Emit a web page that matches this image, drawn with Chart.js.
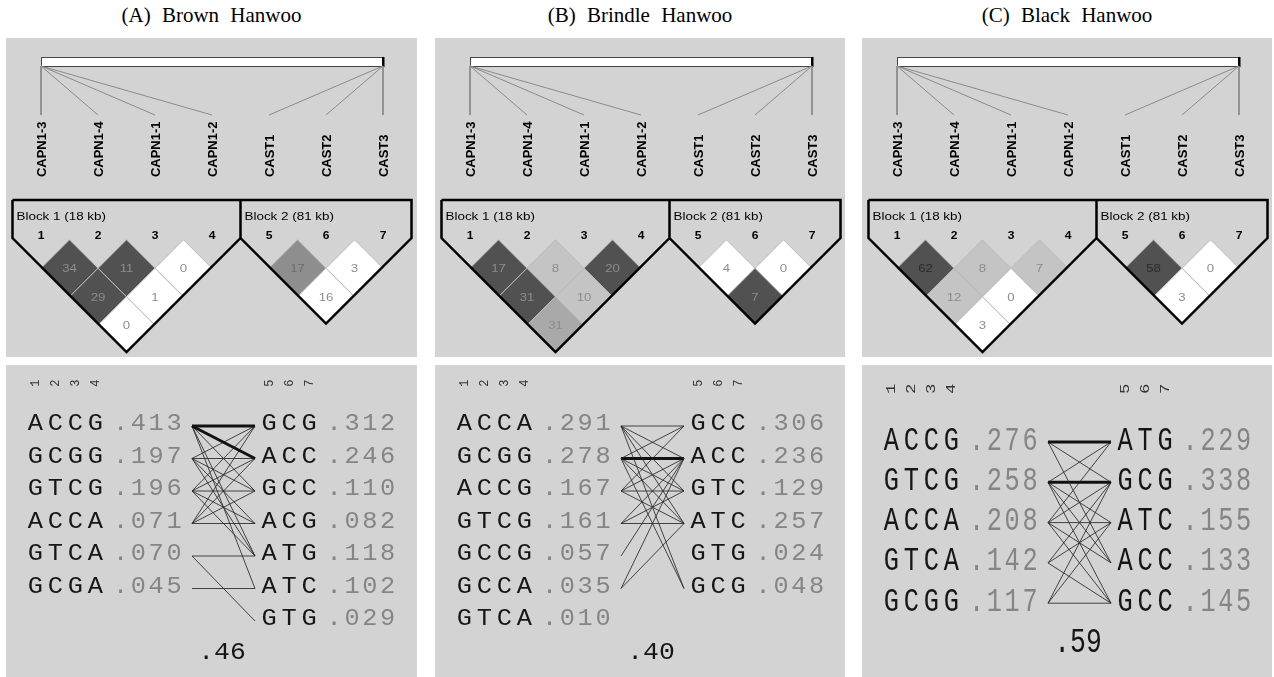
<!DOCTYPE html>
<html>
<head>
<meta charset="utf-8">
<script src="https://cdn.jsdelivr.net/npm/chart.js@4/dist/chart.umd.min.js"></script>
<style>
body { margin:0; background:#fff; width:1274px; height:677px; position:relative; overflow:hidden; }
canvas { position:absolute; background:#d3d3d3; }
.ttl { position:absolute; top:3px; font:21px "Liberation Serif"; word-spacing:6px; text-align:center; color:#000; }
</style>
</head>
<body>
<div class="ttl" style="left:6px;width:411px">(A) Brown Hanwoo</div>
<div class="ttl" style="left:435px;width:410px">(B) Brindle Hanwoo</div>
<div class="ttl" style="left:862px;width:410px">(C) Black Hanwoo</div>
<canvas id="ldA" width="411" height="319" style="left:6px;top:38px"></canvas>
<canvas id="ldB" width="410" height="319" style="left:435px;top:38px"></canvas>
<canvas id="ldC" width="410" height="319" style="left:862px;top:38px"></canvas>
<canvas id="hapA" width="411" height="312" style="left:6px;top:365px"></canvas>
<canvas id="hapB" width="410" height="312" style="left:435px;top:365px"></canvas>
<canvas id="hapC" width="410" height="312" style="left:862px;top:365px"></canvas>
<script>
// markers and blocks
const markers = ['CAPN1-3', 'CAPN1-4', 'CAPN1-1', 'CAPN1-2', 'CAST1', 'CAST2', 'CAST3'];
const mapPos = [0, 0, 0, 0, 1, 1, 1];   // place on the physical map bar (0 = left end, 1 = right end)
const blockNames = ['Block 1 (18 kb)', 'Block 2 (81 kb)'];
const blockSpans = [[1, 4], [5, 7]];

// LD cells (pairs of markers) and values
const pairs = [[1,2], [2,3], [3,4], [1,3], [2,4], [1,4], [5,6], [6,7], [5,7]];
const ldBrown   = [34, 11, 0, 29, 1, 0, 17, 3, 16];
const ldBrindle = [17, 8, 20, 31, 10, 31, 4, 0, 7];
const ldBlack   = [62, 8, 7, 12, 0, 3, 58, 0, 3];
// d = dark, m = medium, g = mid-light, l = light, w = white
const shadeBrown   = ['d', 'd', 'w', 'd', 'w', 'w', 'm', 'w', 'w'];
const shadeBrindle = ['d', 'l', 'd', 'd', 'l', 'g', 'w', 'w', 'd'];
const shadeBlack   = ['d', 'l', 'l', 'l', 'w', 'w', 'd', 'w', 'w'];
const shadeColor = { d: '#515151', m: '#8e8e8e', g: '#a9a9a9', l: '#c4c4c4', w: '#ffffff' };

// haplotypes: block 1 (markers 1-4) and block 2 (markers 5-7)
const hap1Brown = ['ACCG', 'GCGG', 'GTCG', 'ACCA', 'GTCA', 'GCGA'];
const frq1Brown = [0.413, 0.197, 0.196, 0.071, 0.070, 0.045];
const hap2Brown = ['GCG', 'ACC', 'GCC', 'ACG', 'ATG', 'ATC', 'GTG'];
const frq2Brown = [0.312, 0.246, 0.110, 0.082, 0.118, 0.102, 0.029];
const multiBrown = '.46';
// [left row, right row, weight] (weight 2 = thick line)
const linkBrown = [[1,1,2],[1,2,2],[1,3,1],[1,5,1],[1,6,1],[2,1,1],[2,2,1],[2,3,1],[2,4,1],[2,5,1],
  [3,1,1],[3,2,1],[3,3,1],[3,4,1],[3,5,1],[4,1,1],[4,2,1],[4,3,1],[4,4,1],[5,5,1],[5,7,1],[6,6,1]];

const hap1Brindle = ['ACCA', 'GCGG', 'ACCG', 'GTCG', 'GCCG', 'GCCA', 'GTCA'];
const frq1Brindle = [0.291, 0.278, 0.167, 0.161, 0.057, 0.035, 0.010];
const hap2Brindle = ['GCC', 'ACC', 'GTC', 'ATC', 'GTG', 'GCG'];
const frq2Brindle = [0.306, 0.236, 0.129, 0.257, 0.024, 0.048];
const multiBrindle = '.40';
const linkBrindle = [[1,1,1],[1,2,1],[1,3,1],[1,4,1],[1,6,1],[2,1,1],[2,2,2],[2,3,1],[2,4,1],[2,6,1],
  [3,1,1],[3,2,1],[3,3,1],[3,4,1],[4,2,1],[4,3,1],[4,4,1],[5,2,1],[6,2,1],[6,4,1]];

const hap1Black = ['ACCG', 'GTCG', 'ACCA', 'GTCA', 'GCGG'];
const frq1Black = [0.276, 0.258, 0.208, 0.142, 0.117];
const hap2Black = ['ATG', 'GCG', 'ATC', 'ACC', 'GCC'];
const frq2Black = [0.229, 0.338, 0.155, 0.133, 0.145];
const multiBlack = '.59';
const linkBlack = [[1,1,2],[1,2,1],[1,4,1],[2,1,1],[2,2,2],[2,3,1],[2,4,1],[2,5,1],[3,1,1],[3,2,1],
  [3,3,1],[3,4,1],[3,5,1],[4,2,1],[4,3,1],[4,5,1],[5,2,1],[5,3,1],[5,5,1]];

function txt(c, s, x, y, font, color, align, sx, sy, rot) {
  c.save();
  c.translate(x, y);
  c.scale(sx || 1, sy || 1);
  if (rot) c.rotate(rot);
  c.font = font;
  c.fillStyle = color;
  c.textAlign = align || 'center';
  c.textBaseline = 'alphabetic';
  c.fillText(s, 0, 0);
  c.restore();
}

var ldPlugin = {
  id: 'ldText',
  beforeDatasetsDraw(chart) {
    var c = chart.ctx, x = chart.scales.x, y = chart.scales.y;
    var x0 = x.getPixelForValue(1), x1 = x.getPixelForValue(markers.length);
    var y0 = y.getPixelForValue(0.333), y1 = y.getPixelForValue(0.491);
    c.save();
    c.fillStyle = '#fff';
    c.fillRect(x0, y0, x1 - x0, y1 - y0);
    c.strokeStyle = '#444';
    c.lineWidth = 1;
    c.strokeRect(Math.round(x0) + 0.5, Math.round(y0) + 0.5, x1 - x0, y1 - y0);
    c.fillStyle = '#000';
    c.fillRect(x1 - 1, y0, 2.5, y1 - y0 + 1);
    c.restore();
  },
  afterDatasetsDraw(chart) {
    var c = chart.ctx, x = chart.scales.x, y = chart.scales.y;
    markers.forEach(function (m, i) {
      txt(c, m, x.getPixelForValue(i + 1) + 4.6, y.getPixelForValue(2.44), 'bold 13px "Liberation Sans"', '#000', 'left', 1, 1, -Math.PI / 2);
      txt(c, String(i + 1), x.getPixelForValue(i + 1), y.getPixelForValue(3.53), 'bold 11px "Liberation Sans"', '#000', 'center', 1.1, 1);
    });
    blockSpans.forEach(function (b, i) {
      txt(c, blockNames[i], x.getPixelForValue(b[0] - 0.43), y.getPixelForValue(3.19), '11px "Liberation Sans"', '#000', 'left', 1.22, 1);
    });
    var ds = chart.data.datasets[1];
    chart.getDatasetMeta(1).data.forEach(function (pt, i) {
      var v = ds.data[i].v, sh = ds.data[i].s;
      var col = v >= 50 ? '#2a2a2a' : (sh === 'm' ? '#6c6c6c' : '#8c8c8c');
      txt(c, String(v), pt.x, pt.y + 4, '11px "Liberation Sans"', col, 'center', 1.2, 1);
    });
  }
};

function ldChart(id, vals, shades) {
  var cv = document.getElementById(id);
  var u = 57, xmin = 1 - 35 / u;
  var cells = pairs.map(function (p, i) {
    return { x: (p[0] + p[1]) / 2, y: 3.54 + (p[1] - p[0]) / 2, v: vals[i], s: shades[i] };
  });
  var sets = [];
  var outline = [];
  blockSpans.forEach(function (b) {
    var l = b[0] - 0.5, r = b[1] + 0.5;
    outline.push({ x: l, y: 2.84 }, { x: r, y: 2.84 }, { x: r, y: 3.51 },
      { x: (l + r) / 2, y: 3.51 + (r - l) / 2 }, { x: l, y: 3.51 }, { x: l, y: 2.84 }, { x: NaN, y: NaN });
  });
  sets.push({ data: outline, showLine: true, spanGaps: false, borderColor: '#000', borderWidth: 2.5, pointRadius: 0, order: 0 });
  sets.push({
    data: cells, pointStyle: 'rectRot', order: 1,
    pointRadius: function (ctx) { var s = ctx.chart.scales.x; return Math.abs(s.getPixelForValue(0.5) - s.getPixelForValue(0)); },
    pointBackgroundColor: shades.map(function (s) { return shadeColor[s]; }),
    pointBorderColor: '#bababa', pointBorderWidth: 1
  });
  markers.forEach(function (m, i) {
    sets.push({ data: [{ x: 1 + mapPos[i] * (markers.length - 1), y: 0.491 }, { x: i + 1, y: 1.351 }],
      showLine: true, borderColor: '#8a8a8a', borderWidth: 1, pointRadius: 0, order: 2 });
  });
  return new Chart(cv, {
    type: 'scatter',
    data: { datasets: sets },
    options: {
      responsive: false, animation: false, events: [], devicePixelRatio: 1,
      layout: { padding: 0 },
      plugins: { legend: { display: false }, tooltip: { enabled: false } },
      scales: {
        x: { type: 'linear', display: false, min: xmin, max: xmin + cv.width / u },
        y: { type: 'linear', display: false, reverse: true, min: 0, max: cv.height / u }
      }
    },
    plugins: [ldPlugin]
  });
}

var hapPlugin = {
  id: 'hapText',
  afterDatasetsDraw(chart) {
    var c = chart.ctx, x = chart.scales.x, y = chart.scales.y, o = chart.options.hap;
    var font = '23px "Liberation Mono"';
    function column(haps, frqs, x0) {
      haps.forEach(function (h, r) {
        var yy = y.getPixelForValue(r) + o.dy;
        for (var k = 0; k < h.length; k++) {
          txt(c, h[k], x.getPixelForValue(x0 + k), yy, font, '#161616', 'center', 1.1, o.sy);
        }
        var f = frqs[r].toFixed(3).slice(1);
        var start = x.getPixelForValue(x0 + h.length) - 2.4;
        for (var j = 0; j < f.length; j++) {
          txt(c, f[j], start + 7.6 + j * 17.8, yy, font, '#858585', 'center', 1.1, o.sy);
        }
      });
    }
    column(o.hL, o.fL, 1.47);
    column(o.hR, o.fR, 13.15);
    var yh = y.getPixelForValue(-1.32);
    var hf = '12px "Liberation Mono"';
    for (var k = 0; k < o.hL[0].length; k++) {
      txt(c, String(k + 1), x.getPixelForValue(1.47 + k) + 4, yh, hf, '#333', 'center', 1, o.sy, -Math.PI / 2);
    }
    for (var k2 = 0; k2 < o.hR[0].length; k2++) {
      txt(c, String(k2 + 1 + o.hL[0].length), x.getPixelForValue(13.15 + k2) + 4, yh, hf, '#333', 'center', 1, o.sy, -Math.PI / 2);
    }
    var nRows = Math.max(o.hL.length, o.hR.length);
    txt(c, o.total, x.getPixelForValue(10.8), y.getPixelForValue(nRows) + o.dy + 1, '24px "Liberation Mono"', '#161616', 'center', 1.1, o.sy);
  }
};

function hapChart(id, hL, fL, hR, fR, links, total, rowTop, pitch, sy, dy) {
  var cv = document.getElementById(id);
  var sets = links.map(function (l) {
    return { data: [{ x: 9.3, y: l[0] - 1 }, { x: 12.45, y: l[1] - 1 }], showLine: true, pointRadius: 0,
      borderColor: l[2] > 1 ? '#111' : 'rgba(40,40,40,0.85)', borderWidth: l[2] > 1 ? 3 : 1 };
  });
  var ymin = -rowTop / pitch;
  return new Chart(cv, {
    type: 'scatter',
    data: { datasets: sets },
    options: {
      responsive: false, animation: false, events: [], devicePixelRatio: 1,
      layout: { padding: 0 },
      hap: { hL: hL, fL: fL, hR: hR, fR: fR, total: total, sy: sy, dy: dy },
      plugins: { legend: { display: false }, tooltip: { enabled: false } },
      scales: {
        x: { type: 'linear', display: false, min: 0, max: cv.width / 20 },
        y: { type: 'linear', display: false, reverse: true, min: ymin, max: ymin + cv.height / pitch }
      }
    },
    plugins: [hapPlugin]
  });
}

ldChart('ldA', ldBrown, shadeBrown);
ldChart('ldB', ldBrindle, shadeBrindle);
ldChart('ldC', ldBlack, shadeBlack);
hapChart('hapA', hap1Brown, frq1Brown, hap2Brown, frq2Brown, linkBrown, multiBrown, 61, 32.5, 1, 4);
hapChart('hapB', hap1Brindle, frq1Brindle, hap2Brindle, frq2Brindle, linkBrindle, multiBrindle, 61, 32.5, 1, 4);
hapChart('hapC', hap1Black, frq1Black, hap2Black, frq2Black, linkBlack, multiBlack, 77, 40.3, 1.45, 7.5);
</script>
</body>
</html>
